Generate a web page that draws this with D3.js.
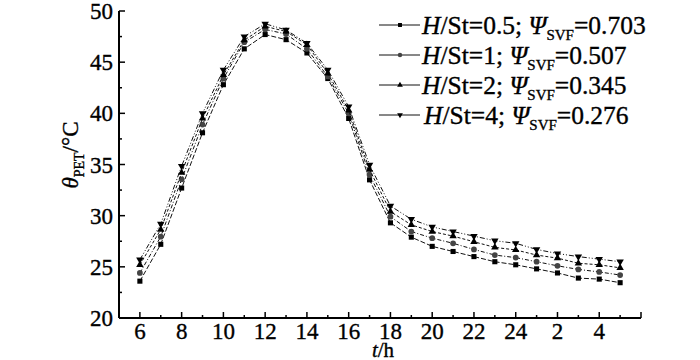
<!DOCTYPE html>
<html>
<head>
<meta charset="utf-8">
<script src="https://cdn.jsdelivr.net/npm/d3@7"></script>
<style>
  body { margin: 0; background: #fff; }
</style>
</head>
<body>
<svg id="chart" width="700" height="360"></svg>
<script>
// hour of day for each sample (index 0..23)
var hours = [6, 7, 8, 9, 10, 11, 12, 13, 14, 15, 16, 17, 18, 19, 20, 21, 22, 23, 24, 1, 2, 3, 4, 5];
var tickLabels = ["6", "8", "10", "12", "14", "16", "18", "20", "22", "24", "2", "4"];

// PET values, one array per H/St case
var pet05 = [23.6, 27.2, 32.7, 38.1, 42.8, 46.3, 47.7, 47.2, 45.9, 43.4, 39.5, 33.5, 29.3, 27.9, 27.0, 26.5, 26.0, 25.5, 25.2, 24.8, 24.4, 23.9, 23.8, 23.45];
var pet1  = [24.4, 27.95, 33.55, 38.9, 43.4, 46.95, 48.2, 47.75, 46.3, 43.6, 40.0, 34.0, 29.9, 28.45, 27.8, 27.3, 26.7, 26.15, 25.9, 25.5, 25.1, 24.75, 24.5, 24.2];
var pet2  = [25.2, 28.65, 34.2, 39.5, 43.75, 47.15, 48.5, 48.0, 46.7, 43.9, 40.3, 34.5, 30.4, 29.1, 28.45, 28.0, 27.45, 26.9, 26.65, 26.15, 25.85, 25.35, 25.2, 24.9];
var pet4  = [25.7, 29.2, 34.85, 40.0, 44.25, 47.5, 48.75, 48.15, 46.85, 44.25, 40.65, 34.95, 30.95, 29.65, 28.9, 28.45, 28.0, 27.55, 27.3, 26.7, 26.3, 26.0, 25.75, 25.5];

var hst = ["0.5", "1", "2", "4"];
var svf = ["0.703", "0.507", "0.345", "0.276"];

var series = [
  {values: pet05, symbol: d3.symbolSquare, size: 26, color: "#000", dash: "5,2"},
  {values: pet1,  symbol: d3.symbolCircle, size: 26, color: "#444", dash: "4,2,1,2"},
  {values: pet2,  symbol: d3.symbolTriangle, size: 24, color: "#000", dash: "3,2"},
  {values: pet4,  symbol: d3.symbolTriangle, size: 24, color: "#000", dash: "5,2,1,2,1,2", flip: true}
];

var FONT = "Liberation Serif";

var svg = d3.select("#chart");

var x = d3.scaleLinear().domain([-1, 24]).range([119, 641]);
var y = d3.scaleLinear().domain([20, 50]).range([318, 11]);

// helper so every label gets the serif face and a slightly heavier stroke like the scan
function label(sel, size) {
  return sel.attr("font-family", FONT)
    .attr("fill", "#000")
    .attr("stroke", "#000")
    .attr("stroke-width", 0.35)
    .style("font-size", size + "px");
}

// axes
var axis = svg.append("g");
axis.append("line").attr("x1", x(-1)).attr("x2", x(-1)).attr("y1", y(20)).attr("y2", y(50))
  .attr("stroke", "#000").attr("stroke-width", 2);
axis.append("line").attr("x1", x(-1)).attr("x2", x(24)).attr("y1", y(20)).attr("y2", y(20))
  .attr("stroke", "#000").attr("stroke-width", 2);

// x ticks (inward)
d3.range(0, 25).forEach(function(i) {
  var major = i % 2 == 0;
  axis.append("line")
    .attr("x1", x(i)).attr("x2", x(i))
    .attr("y1", y(20)).attr("y2", y(20) - (major ? 6 : 3))
    .attr("stroke", "#000").attr("stroke-width", 1.5);
});
tickLabels.forEach(function(t, k) {
  label(axis.append("text"), 23)
    .attr("x", x(k * 2)).attr("y", 339)
    .attr("text-anchor", "middle")
    .text(t);
});

// y ticks (inward)
d3.range(20, 50.1, 2.5).forEach(function(v) {
  var major = v % 5 == 0;
  axis.append("line")
    .attr("x1", x(-1)).attr("x2", x(-1) + (major ? 6 : 3))
    .attr("y1", y(v)).attr("y2", y(v))
    .attr("stroke", "#000").attr("stroke-width", 1.5);
  if (major) {
    label(axis.append("text"), 23)
      .attr("x", 113).attr("y", y(v) + 8)
      .attr("text-anchor", "end")
      .text(v);
  }
});

// axis titles
var yt = label(svg.append("text"), 23)
  .attr("transform", "translate(78,155) rotate(-90)")
  .attr("text-anchor", "middle");
yt.append("tspan").style("font-style", "italic").text("θ");
yt.append("tspan").attr("dy", 6).style("font-size", "14px").text("PET");
yt.append("tspan").attr("dy", -6).text("/°C");

var xt = label(svg.append("text"), 21)
  .attr("x", 383).attr("y", 357)
  .attr("text-anchor", "middle");
xt.append("tspan").style("font-style", "italic").text("t");
xt.append("tspan").text("/h");

// lines and markers
var line = d3.line()
  .x(function(d, i) { return x(i); })
  .y(function(d) { return y(d); });

series.forEach(function(s) {
  svg.append("path")
    .datum(s.values)
    .attr("d", line)
    .attr("fill", "none")
    .attr("stroke", "#111")
    .attr("stroke-width", 1)
    .attr("stroke-dasharray", s.dash);

  svg.append("g").selectAll("path")
    .data(s.values)
    .enter()
    .append("path")
    .attr("d", d3.symbol().type(s.symbol).size(s.size))
    .attr("transform", function(d, i) {
      return "translate(" + x(i) + "," + y(d) + ")" + (s.flip ? " rotate(180)" : "");
    })
    .attr("fill", s.color);
});

// legend
var legend = svg.append("g");
series.forEach(function(s, i) {
  var ly = 25 + i * 30;
  legend.append("line")
    .attr("x1", 379).attr("x2", 420).attr("y1", ly).attr("y2", ly)
    .attr("stroke", "#111").attr("stroke-width", 1);
  legend.append("path")
    .attr("d", d3.symbol().type(s.symbol).size(s.size * 0.6))
    .attr("transform", "translate(400," + ly + ")" + (s.flip ? " rotate(180)" : ""))
    .attr("fill", s.color);
  var t = label(legend.append("text"), 25.5)
    .attr("x", i == 3 ? 424 : 422).attr("y", ly + 9);
  t.append("tspan").style("font-style", "italic").text("H");
  t.append("tspan").text("/St=" + hst[i] + "; ");
  t.append("tspan").style("font-style", "italic").text("Ψ");
  t.append("tspan").attr("dy", 6).style("font-size", "15px").text("SVF");
  t.append("tspan").attr("dy", -6).text("=" + svf[i]);
});
</script>
</body>
</html>
